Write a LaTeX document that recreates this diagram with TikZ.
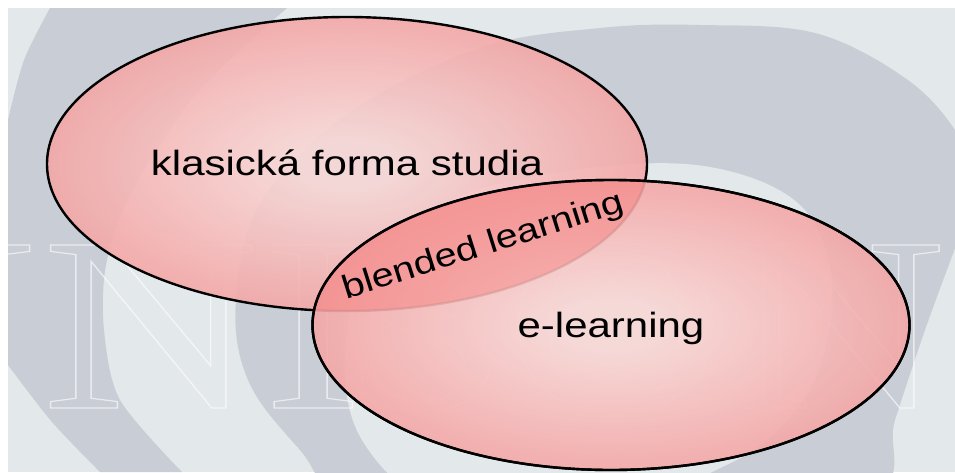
\documentclass[tikz,border=0pt]{standalone}
\usepackage{fontspec}
\setmainfont{Liberation Sans}
\newfontfamily\lab[FakeStretch=1.2]{Liberation Sans}
\newfontfamily\wm{Liberation Serif}
\usetikzlibrary{shapes.geometric}
\definecolor{bglight}{HTML}{E3E8EA}
\definecolor{bgdark}{HTML}{C9CED6}
\definecolor{vin}{HTML}{F8D8D6}
\definecolor{vmid}{HTML}{F39C9C}
\definecolor{vout}{HTML}{E6585C}
\definecolor{lens}{HTML}{F47070}
\pgfdeclareradialshading{vennshade}{\pgfpoint{0bp}{0bp}}{color(0bp)=(vin); color(4bp)=(vin); color(30bp)=(vmid); color(50bp)=(vout); color(100bp)=(vout)}
\newcommand\outlinetext[1]{\special{pdf:literal direct 1 Tr 1.2 w}#1\special{pdf:literal direct 0 Tr}}
\begin{document}
\begin{tikzpicture}[x=1pt,y=-1pt,
  venn/.style={ellipse, draw=black, line width=2.4pt, minimum width=600pt, minimum height=294pt,
    inner sep=0pt, outer sep=0pt, shade, shading=vennshade, fill opacity=0.9},
  wmletter/.style={font=\wm\fontsize{249}{249}\selectfont, text=white, anchor=base, inner sep=0pt, xscale=1.2},
  lbl/.style={font=\lab\fontsize{35}{35}\selectfont, text=black, anchor=base, inner sep=0pt}]
\useasboundingbox (0,0) rectangle (955,472);
\clip (0,0) rectangle (955,472);
% background
\fill[white] (0,0) rectangle (955,472);
\fill[bglight] (8,8) rectangle (955,472);
\fill[bgdark] plot[smooth] coordinates {(50,8) (24,60) (8,120)} -- (8,365)
  -- plot[smooth] coordinates {(8,365) (52,422) (100,472)} -- (182,472)
  -- plot[smooth] coordinates {(182,472) (120,400) (104,330) (106,265) (130,195) (195,95) (287,8)} -- cycle;
\fill[bgdark] plot[smooth cycle, tension=0.6] coordinates {(236,300) (262,200) (350,112) (480,48) (600,28) (700,25) (815,33) (905,78) (955,130) (978,185) (958,240) (925,330) (895,420) (870,500) (650,560) (380,530) (300,450) (248,380)};
\fill[bglight] plot[smooth cycle, tension=0.6] coordinates {(345,350) (372,262) (455,198) (590,168) (710,167) (800,205) (832,282) (818,372) (772,436) (712,472) (600,520) (440,505) (362,440)};
% watermark
\begin{scope}[opacity=0.6]
\node[wmletter] (wU) at (-72,408) {\outlinetext{U}};
\node[wmletter] (wN1) at (150,408) {\outlinetext{N}};
\node[wmletter] (wI) at (313,408) {\outlinetext{I}};
\node[wmletter] (wS) at (425,408) {\outlinetext{S}};
\node[wmletter] (wO) at (615,408) {\outlinetext{O}};
\node[wmletter] (wN2) at (838,408) {\outlinetext{N}};
\end{scope}
% Venn ellipses
\node[venn] (kf) at (347,164) {};
\node[venn, minimum width=597pt, minimum height=290pt] (el) at (611,325) {};
% deeper tint of the overlap
\begin{scope}
\clip (kf.center) ellipse [x radius=300, y radius=147];
\fill[lens, fill opacity=0.35] (el.center) ellipse [x radius=298.5, y radius=145];
\end{scope}
\draw[line width=2.4pt] (el.center) ellipse [x radius=298.5, y radius=145];
% labels
\node[lbl] (kft) at (347,175) {klasická forma studia};
\node[lbl] (elt) at (611,337) {e-learning};
\node[lbl, font=\lab\fontsize{33}{33}\selectfont, rotate=17.5] (blt) at (486,255) {blended learning};
\end{tikzpicture}
\end{document}
